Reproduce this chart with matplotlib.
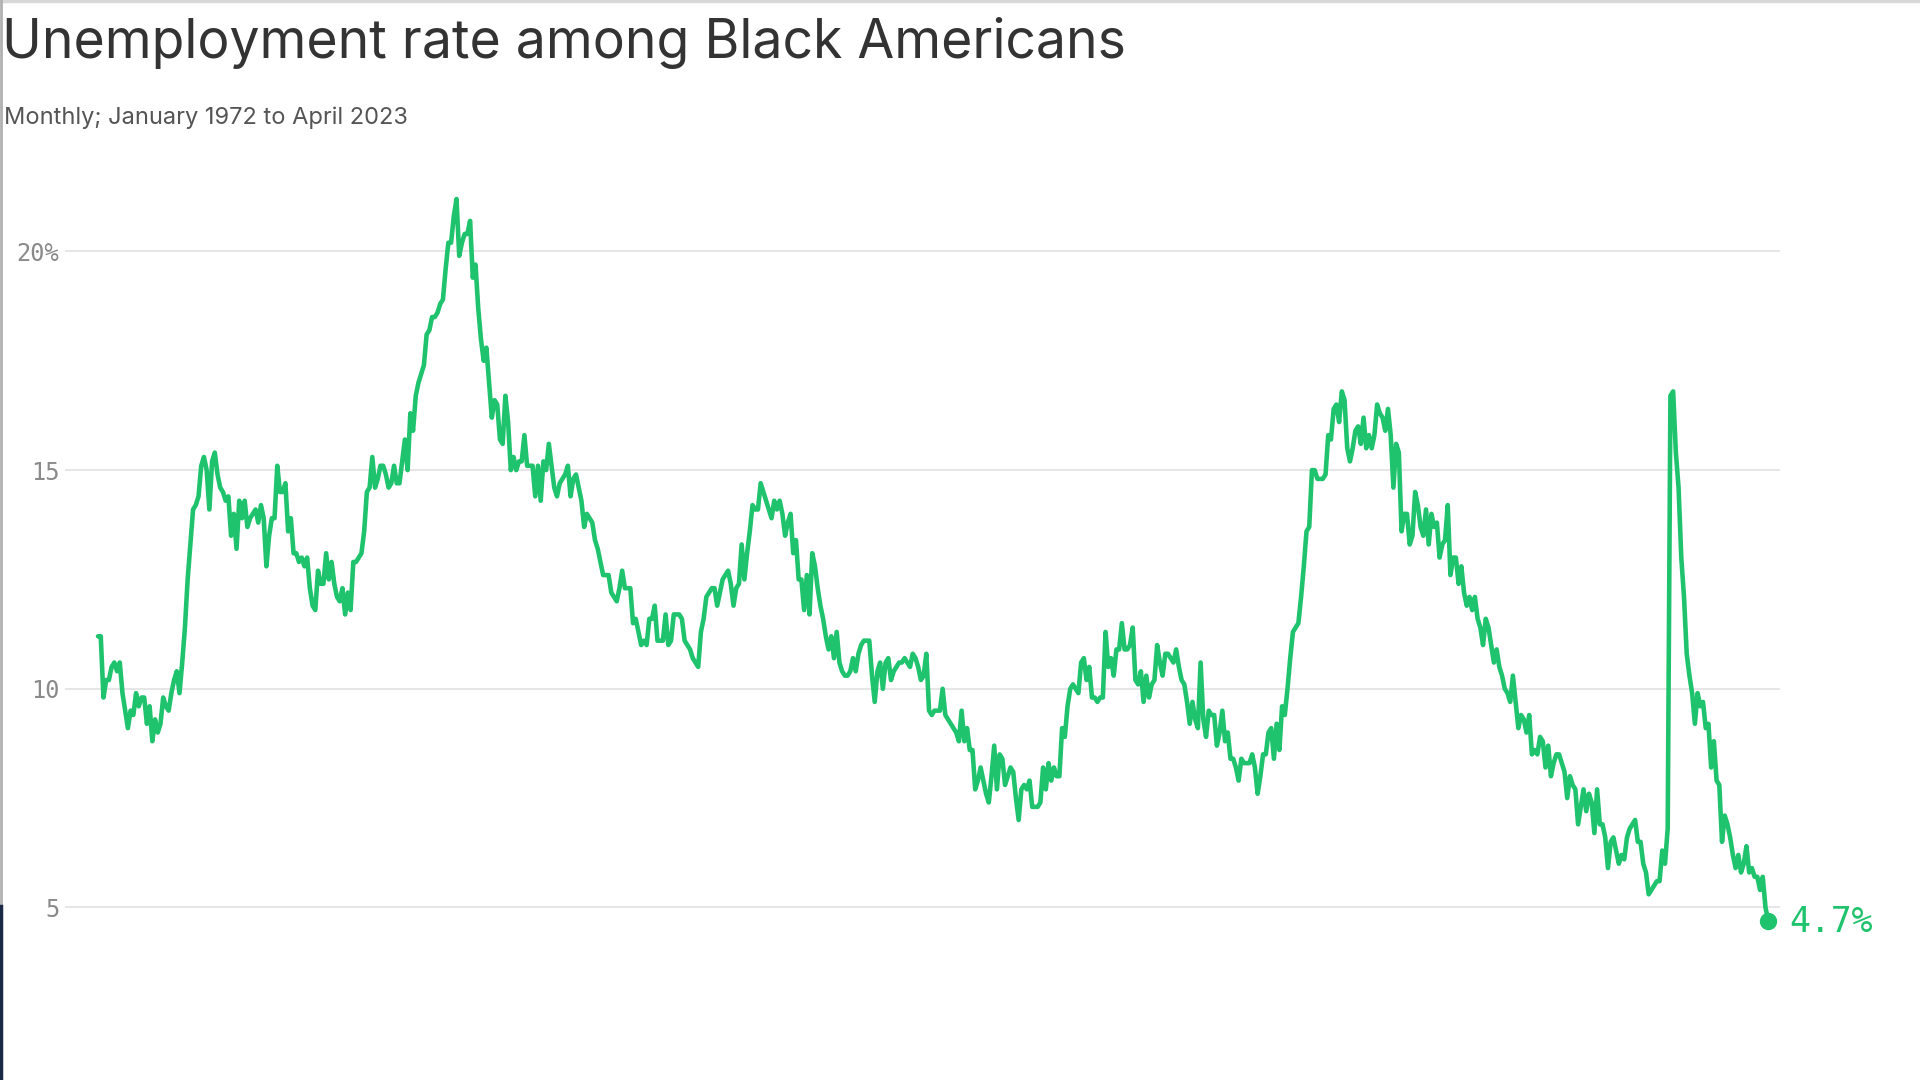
import matplotlib
matplotlib.use("Agg")
import matplotlib.pyplot as plt
import numpy as np

# ---------------- data (monthly, Jan 1972 - Apr 2023) ----------------
title_text = "Unemployment rate among Black Americans"
subtitle_text = "Monthly; January 1972 to April 2023"
y_ticks = [5, 10, 15, 20]
y_tick_labels = ["5", "10", "15", "20%"]
start_year = 1972
end_label = "4.7%"

r1972 = [11.2, 11.2, 9.8, 10.2, 10.2, 10.5, 10.6, 10.4, 10.6, 9.9, 9.5, 9.1]
r1973 = [9.5, 9.4, 9.9, 9.6, 9.8, 9.8, 9.2, 9.6, 8.8, 9.3, 9.0, 9.2]
r1974 = [9.8, 9.6, 9.5, 9.9, 10.2, 10.4, 9.9, 10.6, 11.4, 12.5, 13.3, 14.1]
r1975 = [14.2, 14.4, 15.1, 15.3, 15.0, 14.1, 15.2, 15.4, 14.9, 14.6, 14.5, 14.3]
r1976 = [14.4, 13.5, 14.0, 13.2, 14.3, 13.9, 14.3, 13.7, 13.9, 14.0, 14.1, 13.8]
r1977 = [14.2, 13.9, 12.8, 13.5, 13.9, 13.9, 15.1, 14.5, 14.5, 14.7, 13.6, 13.9]
r1978 = [13.1, 13.1, 12.9, 13.0, 12.8, 13.0, 12.3, 11.9, 11.8, 12.7, 12.4, 12.4]
r1979 = [13.1, 12.5, 12.9, 12.4, 12.1, 12.0, 12.3, 11.7, 12.2, 11.8, 12.9, 12.9]
r1980 = [13.0, 13.1, 13.6, 14.5, 14.6, 15.3, 14.6, 14.8, 15.1, 15.1, 14.9, 14.6]
r1981 = [14.7, 15.1, 14.7, 14.7, 15.2, 15.7, 15.0, 16.3, 15.9, 16.7, 17.0, 17.2]
r1982 = [17.4, 18.1, 18.2, 18.5, 18.5, 18.6, 18.8, 18.9, 19.6, 20.2, 20.2, 20.8]
r1983 = [21.2, 19.9, 20.2, 20.4, 20.4, 20.7, 19.4, 19.7, 18.7, 18.0, 17.5, 17.8]
r1984 = [17.0, 16.2, 16.6, 16.5, 15.7, 15.6, 16.7, 16.1, 15.0, 15.3, 15.0, 15.2]
r1985 = [15.2, 15.8, 15.1, 15.1, 15.1, 14.4, 15.1, 14.3, 15.2, 15.0, 15.6, 15.1]
r1986 = [14.6, 14.4, 14.7, 14.8, 14.9, 15.1, 14.4, 14.8, 14.9, 14.6, 14.3, 13.7]
r1987 = [14.0, 13.9, 13.8, 13.4, 13.2, 12.9, 12.6, 12.6, 12.6, 12.2, 12.1, 12.0]
r1988 = [12.3, 12.7, 12.3, 12.3, 12.3, 11.5, 11.6, 11.3, 11.0, 11.1, 11.0, 11.6]
r1989 = [11.6, 11.9, 11.1, 11.1, 11.1, 11.7, 11.0, 11.1, 11.7, 11.7, 11.7, 11.6]
r1990 = [11.1, 11.0, 10.9, 10.7, 10.6, 10.5, 11.3, 11.6, 12.1, 12.2, 12.3, 12.3]
r1991 = [11.9, 12.2, 12.5, 12.6, 12.7, 12.4, 11.9, 12.3, 12.4, 13.3, 12.5, 13.1]
r1992 = [13.6, 14.2, 14.1, 14.1, 14.7, 14.5, 14.3, 14.1, 13.9, 14.3, 14.1, 14.3]
r1993 = [14.0, 13.5, 13.8, 14.0, 13.1, 13.4, 12.5, 12.5, 11.8, 12.6, 11.7, 13.1]
r1994 = [12.8, 12.3, 11.9, 11.6, 11.2, 10.9, 11.2, 10.7, 11.3, 10.6, 10.4, 10.3]
r1995 = [10.3, 10.4, 10.7, 10.4, 10.8, 11.0, 11.1, 11.1, 11.1, 10.3, 9.7, 10.4]
r1996 = [10.6, 10.0, 10.6, 10.7, 10.2, 10.4, 10.5, 10.6, 10.6, 10.7, 10.6, 10.5]
r1997 = [10.8, 10.7, 10.5, 10.2, 10.3, 10.8, 9.5, 9.4, 9.5, 9.5, 9.5, 10.0]
r1998 = [9.4, 9.3, 9.2, 9.1, 9.0, 8.8, 9.5, 8.8, 9.1, 8.6, 8.6, 7.7]
r1999 = [7.9, 8.2, 7.9, 7.6, 7.4, 8.0, 8.7, 7.7, 8.5, 8.4, 7.8, 8.0]
r2000 = [8.2, 8.1, 7.5, 7.0, 7.7, 7.8, 7.7, 7.9, 7.3, 7.3, 7.3, 7.4]
r2001 = [8.2, 7.7, 8.3, 7.9, 8.2, 8.0, 8.0, 9.1, 8.9, 9.6, 10.0, 10.1]
r2002 = [10.0, 9.9, 10.6, 10.7, 10.2, 10.5, 9.8, 9.8, 9.7, 9.8, 9.8, 11.3]
r2003 = [10.5, 10.7, 10.3, 10.9, 10.9, 11.5, 10.9, 10.9, 11.0, 11.4, 10.2, 10.1]
r2004 = [10.4, 9.7, 10.3, 9.8, 10.1, 10.2, 11.0, 10.6, 10.3, 10.8, 10.8, 10.7]
r2005 = [10.6, 10.9, 10.5, 10.2, 10.1, 9.7, 9.2, 9.7, 9.3, 9.1, 10.6, 9.3]
r2006 = [8.9, 9.5, 9.4, 9.4, 8.7, 9.0, 9.5, 8.8, 9.0, 8.4, 8.4, 8.2]
r2007 = [7.9, 8.4, 8.3, 8.3, 8.3, 8.5, 8.2, 7.6, 8.0, 8.5, 8.5, 9.0]
r2008 = [9.1, 8.4, 9.2, 8.6, 9.6, 9.4, 10.0, 10.7, 11.3, 11.4, 11.5, 12.1]
r2009 = [12.8, 13.6, 13.7, 15.0, 15.0, 14.8, 14.8, 14.8, 14.9, 15.8, 15.7, 16.4]
r2010 = [16.5, 16.1, 16.8, 16.6, 15.5, 15.2, 15.5, 15.9, 16.0, 15.6, 16.2, 15.5]
r2011 = [15.8, 15.5, 15.8, 16.5, 16.3, 16.2, 15.9, 16.4, 15.8, 14.6, 15.6, 15.4]
r2012 = [13.6, 14.0, 14.0, 13.3, 13.5, 14.5, 14.2, 13.7, 13.5, 14.1, 13.3, 14.0]
r2013 = [13.7, 13.8, 13.0, 13.3, 13.4, 14.2, 12.6, 13.0, 13.0, 12.4, 12.8, 12.2]
r2014 = [11.9, 12.1, 11.8, 12.1, 11.6, 11.4, 11.0, 11.6, 11.4, 11.0, 10.6, 10.9]
r2015 = [10.5, 10.3, 10.0, 9.9, 9.7, 10.3, 9.7, 9.1, 9.4, 9.3, 9.0, 9.4]
r2016 = [8.5, 8.6, 8.5, 8.9, 8.8, 8.2, 8.7, 8.0, 8.3, 8.5, 8.5, 8.3]
r2017 = [8.1, 7.5, 8.0, 7.8, 7.7, 6.9, 7.3, 7.7, 7.2, 7.6, 7.4, 6.7]
r2018 = [7.7, 6.9, 6.9, 6.6, 5.9, 6.5, 6.6, 6.3, 6.0, 6.2, 6.1, 6.6]
r2019 = [6.8, 6.9, 7.0, 6.5, 6.5, 6.0, 5.8, 5.3, 5.4, 5.5, 5.6, 5.6]
r2020 = [6.3, 6.0, 6.8, 16.7, 16.8, 15.4, 14.6, 13.0, 12.1, 10.8, 10.3, 9.9]
r2021 = [9.2, 9.9, 9.6, 9.7, 9.1, 9.2, 8.2, 8.8, 7.9, 7.8, 6.5, 7.1]
r2022 = [6.9, 6.6, 6.2, 5.9, 6.2, 5.8, 6.0, 6.4, 5.8, 5.9, 5.7, 5.7]
r2023 = [5.4, 5.7, 5.0, 4.7]

yearly = [r1972, r1973, r1974, r1975, r1976, r1977, r1978, r1979, r1980, r1981,
          r1982, r1983, r1984, r1985, r1986, r1987, r1988, r1989, r1990, r1991,
          r1992, r1993, r1994, r1995, r1996, r1997, r1998, r1999, r2000, r2001,
          r2002, r2003, r2004, r2005, r2006, r2007, r2008, r2009, r2010, r2011,
          r2012, r2013, r2014, r2015, r2016, r2017, r2018, r2019, r2020, r2021,
          r2022, r2023]
rate = np.array([v for yr in yearly for v in yr])
months = np.arange(len(rate))  # month index from Jan 1972

# ---------------- styling ----------------
GREEN = "#20c36d"
W, H = 1920, 1080
fig = plt.figure(figsize=(W / 100, H / 100), dpi=100)
fig.patch.set_facecolor("white")

# reference geometry measured on a 1568x882 rendering -> fractions
sx, sy = 1 / 1568, 1 / 882
ax_left, ax_right = 53 * sx, 1454 * sx
ax_bottom, ax_top = 1 - 850 * sy, 1 - 140 * sy
ax = fig.add_axes([ax_left, ax_bottom, ax_right - ax_left, ax_top - ax_bottom])
ax.set_facecolor("white")

ax.plot(months, rate, color=GREEN, lw=3.3, solid_joinstyle="round",
        solid_capstyle="round", zorder=3)
ax.plot(months[-1], rate[-1], "o", color=GREEN, ms=11.5, zorder=4)
ax.annotate(end_label, xy=(months[-1], rate[-1]), xytext=(15, -1),
            textcoords="offset points", va="center", ha="left",
            color=GREEN, fontsize=25, family="DejaVu Sans Mono")

ax.set_xlim(-12.2, 619.5)
ax.set_ylim(1.95, 21.83)
ax.set_yticks(y_ticks)
ax.set_yticklabels(y_tick_labels)
ax.set_xticks([])
ax.grid(axis="y", color="#e2e2e2", lw=1.2, zorder=0)
ax.tick_params(axis="y", length=0, pad=4, labelsize=17, labelcolor="#8a8a8a")
for lab in ax.get_yticklabels():
    lab.set_family("DejaVu Sans Mono")
for s in ax.spines.values():
    s.set_visible(False)

# title & subtitle
fig.text(2 * sx, 1 - 47 * sy, title_text, ha="left", va="baseline",
         fontsize=38.5, color="#333333", family="Inter")
fig.text(3 * sx, 1 - 101 * sy, subtitle_text, ha="left", va="baseline",
         fontsize=17, color="#555555", family="Inter")

# frame artifacts at the edges of the screenshot
fig.add_artist(plt.Line2D([0, 1], [1 - 1 * sy, 1 - 1 * sy], transform=fig.transFigure,
                          color="#d8d8d8", lw=2.5))
fig.add_artist(plt.Line2D([1 * sx, 1 * sx], [0, 1], transform=fig.transFigure,
                          color="#b0b0b0", lw=2))
fig.add_artist(plt.Line2D([1 * sx, 1 * sx], [0, 1 - 740 * sy], transform=fig.transFigure,
                          color="#1b2a44", lw=2.5))

fig.savefig("out.png", dpi=100, facecolor="white")
